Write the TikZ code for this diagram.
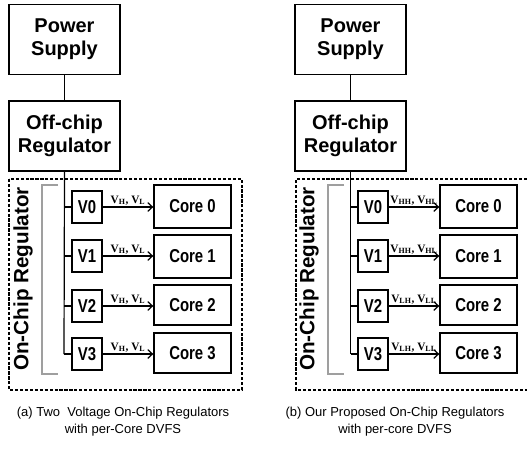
\documentclass[tikz,border=0pt]{standalone}
\usepackage{fontspec}
\setmainfont{Liberation Sans}
\newfontfamily\boxfont{Liberation Sans}
\newfontfamily\condfont{Liberation Sans}[FakeStretch=0.8]
\newfontfamily\lblfont{Liberation Serif}
\usetikzlibrary{arrows.meta}
\tikzset{
  bigbox/.style={draw, line width=1pt, minimum width=83.25pt, minimum height=52.5pt, inner sep=0pt, align=center,
    font=\boxfont\bfseries\fontsize{15}{17.5}\selectfont},
  vbox/.style={draw, line width=1pt, minimum width=22.5pt, minimum height=24pt, inner sep=0pt,
    font=\condfont\bfseries\fontsize{14}{16}\selectfont},
  corebox/.style={draw, line width=1pt, minimum width=57.75pt, inner sep=0pt,
    font=\condfont\bfseries\fontsize{14}{16}\selectfont},
  wire/.style={line width=0.9pt},
  arr/.style={wire, -{Straight Barb[length=3.5pt,width=6.5pt]}},
  lbl/.style={font=\lblfont\bfseries\fontsize{8.5}{9}\selectfont, inner sep=1pt, anchor=south},
  dashbox/.style={line width=0.8pt, dash pattern=on 2.4pt off 1.3pt},
  brk/.style={draw=gray!75, line width=1pt},
  sidetext/.style={rotate=90, font=\boxfont\bfseries\fontsize{15.5}{17}\selectfont},
  captext/.style={align=center, font=\fontsize{9.75}{12.75}\selectfont}
}
\begin{document}
\begin{tikzpicture}[x=0.75pt,y=-0.75pt]
\useasboundingbox (0,0) rectangle (527,450);
\fill[white] (0,0) rectangle (527,450);

% ---------- panel (a) ----------
\node[bigbox] (a-ps) at (64.5,39.5) {Power\\Supply};
\node[bigbox] (a-oc) at (64.5,136) {Off-chip\\Regulator};
\draw[wire] (a-ps) -- (a-oc);
\draw[dashbox] (9,179) rectangle (242,390);
\draw[brk] (58,185) -- (42,185) -- (42,374) -- (58,374);
\node[sidetext] (a-side) at (23,279) {On-Chip Regulator};
\coordinate (a-bend) at (64,354);
\draw[wire] (a-oc.south) -- (a-bend);
\foreach \i/\vy/\cy/\ch in {0/207/206.5/43, 1/256/256.5/43, 2/306/305/40, 3/354/353/40}{
  \node[vbox] (a-v\i) at (87,\vy) {V\i};
  \node[corebox, minimum height=\ch*0.75pt] (a-c\i) at (192.5,\cy) {Core \i};
  \coordinate (a-t\i) at (64,\vy);
  \draw[wire] (a-t\i) -- (a-v\i.west);
  \draw[arr] (a-v\i.east) -- (a-v\i.east -| a-c\i.west)
     node[lbl, midway] {V\textsubscript{H}, V\textsubscript{L}};
}
\node[captext] (a-cap) at (123,421.5) {(a) Two\ \ Voltage On-Chip Regulators\\with per-Core DVFS};

% ---------- panel (b) ----------
\node[bigbox] (b-ps) at (350.5,39.5) {Power\\Supply};
\node[bigbox] (b-oc) at (350.5,136) {Off-chip\\Regulator};
\draw[wire] (b-ps) -- (b-oc);
\draw[dashbox] (527,179) -- (296,179) -- (296,390) -- (527,390);
\draw[brk] (344,185) -- (328,185) -- (328,374) -- (344,374);
\node[sidetext] (b-side) at (309,279) {On-Chip Regulator};
\coordinate (b-bend) at (350.5,354);
\draw[wire] (b-oc.south) -- (b-bend);
\foreach \i/\vy/\cy/\ch/\sa/\sb in {0/207/206.5/43/HH/HL, 1/256/256.5/43/HH/HL, 2/306/305/40/LH/LL, 3/354/353/40/LH/LL}{
  \node[vbox] (b-v\i) at (373,\vy) {V\i};
  \node[corebox, minimum height=\ch*0.75pt] (b-c\i) at (478.5,\cy) {Core \i};
  \coordinate (b-t\i) at (350.5,\vy);
  \draw[wire] (b-t\i) -- (b-v\i.west);
  \draw[arr] (b-v\i.east) -- (b-v\i.east -| b-c\i.west)
     node[lbl, midway] {V\textsubscript{\sa}, V\textsubscript{\sb}};
}
\node[captext] (b-cap) at (395,421.5) {(b) Our Proposed On-Chip Regulators\\with per-core DVFS};
\end{tikzpicture}
\end{document}
